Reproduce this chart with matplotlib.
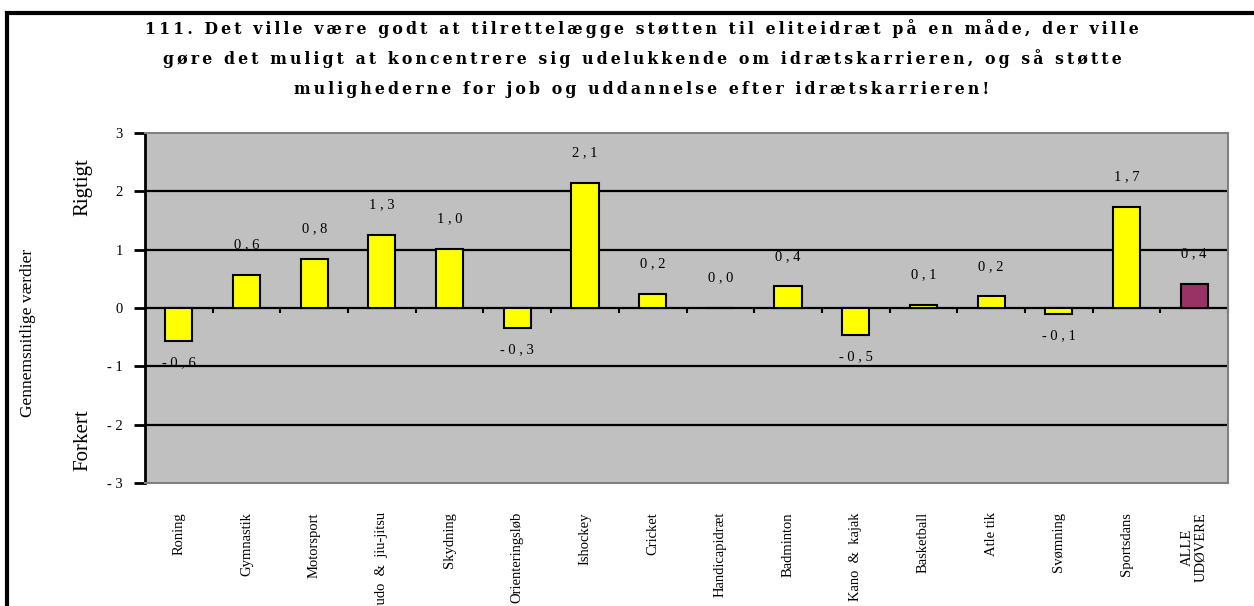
import numpy as np
import matplotlib.pyplot as plt
from matplotlib.patches import Rectangle

sports = ['Roning', 'Gymnastik', 'Motorsport', 'Judo  &  jiu-jitsu', 'Skydning',
          'Orienteringsløb', 'Ishockey', 'Cricket', 'Handicapidræt', 'Badminton',
          'Kano  &  kajak', 'Basketball', 'Atle tik', 'Svømning', 'Sportsdans',
          'ALLE\nUDØVERE']
values = [-0.56, 0.57, 0.84, 1.26, 1.01, -0.34, 2.14, 0.24, 0.0, 0.37,
          -0.46, 0.06, 0.2, -0.11, 1.73, 0.41]
bar_colors = ['#FFFF00'] * 15 + ['#993366']

title_lines = ['111. Det ville være godt at tilrettelægge støtten til eliteidræt på en måde, der ville',
               'gøre det muligt at koncentrere sig udelukkende om idrætskarrieren, og så støtte',
               'mulighederne for job og uddannelse efter idrætskarrieren!']
yticks = [-3, -2, -1, 0, 1, 2, 3]

plt.rcParams['font.family'] = ['Liberation Serif', 'DejaVu Serif']


def spaced(s, sep=' '):
    # wide letter spacing like the original
    return sep.join(s)


W, H = 1254, 606
fig = plt.figure(figsize=(W / 100, H / 100), dpi=100)
fig.patch.set_facecolor('white')

# outer frame
fig.add_artist(Rectangle((6.7 / W, -0.2), 1.2, 1 - 12.5 / H + 0.2, transform=fig.transFigure,
                         fill=False, edgecolor='black', linewidth=3, clip_on=False))

for k, line in enumerate(title_lines):
    fig.text(642 / W, 1 - (29 + 30 * k) / H, spaced(line, '\u2009'), ha='center', va='center',
             fontsize=11.3, fontweight='bold', family=['DejaVu Serif'])

left, right, top, bottom = 145, 1228, 133, 483
ax = fig.add_axes([left / W, 1 - bottom / H, (right - left) / W, (bottom - top) / H])
n = len(sports)
x = np.arange(n)
ax.set_facecolor('#C0C0C0')
for yv in yticks[1:-1]:
    ax.axhline(yv, color='black', linewidth=1.6, zorder=1)
ax.bar(x, values, width=0.4, color=bar_colors, edgecolor='black', linewidth=1.5, zorder=3)
ax.vlines(np.arange(1, n + 1) - 0.5, -0.08, 0, color='black', linewidth=1.5, zorder=2,
          clip_on=False)
ax.set_xlim(-0.5, n - 0.5)
ax.set_ylim(-3, 3)

for s in ['top', 'right', 'bottom']:
    ax.spines[s].set_color('#808080')
    ax.spines[s].set_linewidth(1.5)
ax.spines['left'].set_linewidth(2)

ax.set_yticks(yticks)
ax.set_yticklabels([('- ' + str(-v)) if v < 0 else str(v) for v in yticks], fontsize=10.5)
ax.tick_params(axis='y', direction='out', length=8, width=2, pad=8)
ax.set_xticks([])

for i, v in enumerate(values):
    lab = spaced(f'{v:.1f}'.replace('.', ','))
    off = 21.6 if v >= 0 else -15.5
    ax.annotate(lab, (i, v), xytext=(0, off), textcoords='offset points',
                ha='center', va='center', fontsize=10.5)

for i, s in enumerate(sports):
    ax.text(i, -0.083, s, transform=ax.get_xaxis_transform(), rotation=90,
            ha='center', va='top', fontsize=10.5, linespacing=1.1)

fig.text(28 / W, 1 - 333 / H, 'Gennemsnitlige værdier', rotation=90, ha='center',
         va='center', fontsize=12.5)
fig.text(83 / W, 1 - 187 / H, 'Rigtigt', rotation=90, ha='center', va='center', fontsize=15)
fig.text(83 / W, 1 - 440 / H, 'Forkert', rotation=90, ha='center', va='center', fontsize=15)

fig.savefig('out.png', dpi=100)
